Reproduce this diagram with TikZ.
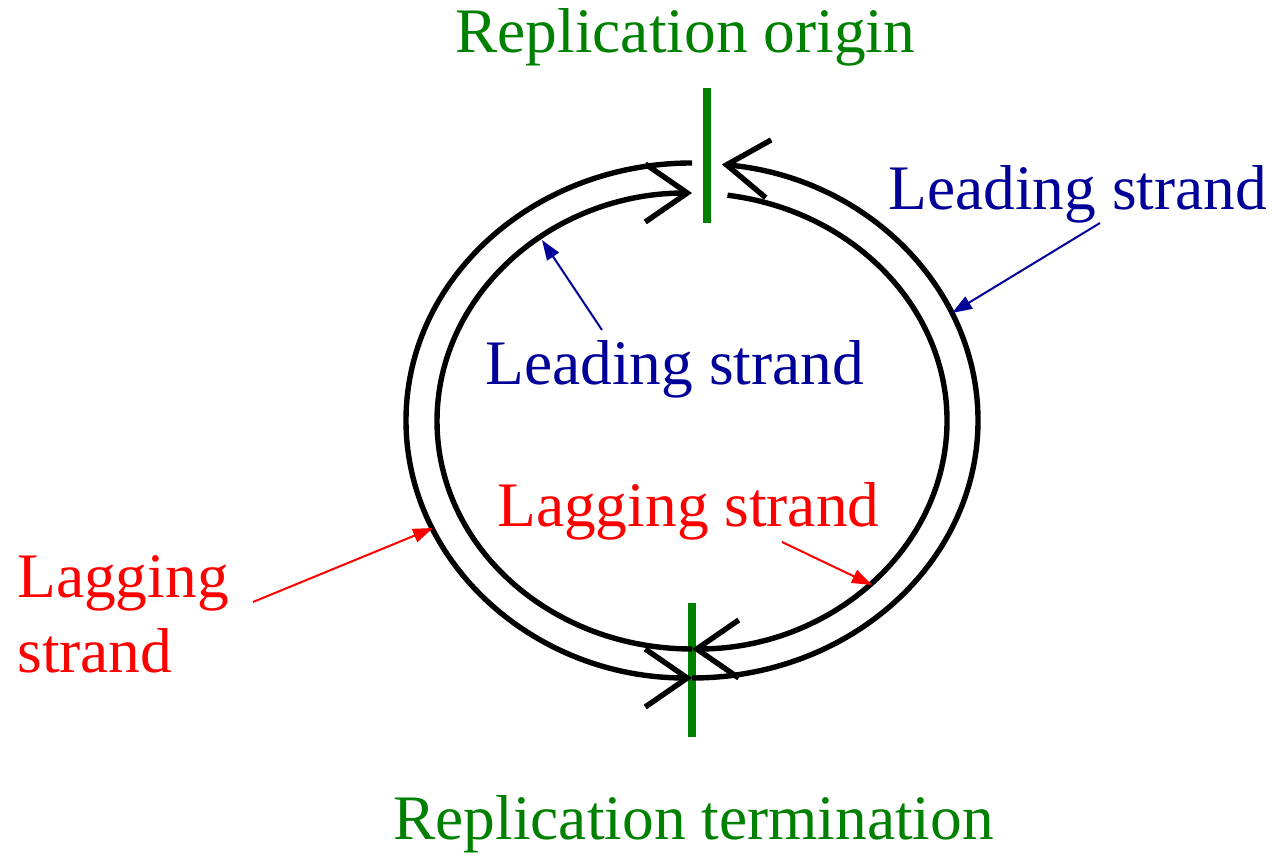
\documentclass[tikz,border=0pt]{standalone}
\usepackage{fontspec}
\setmainfont{Liberation Serif}
\usepackage{xcolor}
\usepackage{tikz}
\usetikzlibrary{arrows.meta}
\definecolor{origgreen}{RGB}{0,128,0}
\definecolor{leadblue}{RGB}{0,0,153}
\definecolor{lagred}{RGB}{255,0,0}

\begin{document}
\begin{tikzpicture}[
  x=0.5pt, y=0.5pt,
  strand/.style={line width=2.7pt, -{Straight Barb[length=21pt,width=29pt]}},
  marker/.style={line width=4pt, origgreen},
  txt/.style={anchor=base west, inner sep=0pt, font=\fontsize{31.7}{37.5}\selectfont},
  pointer/.style={line width=1pt, -{Triangle[length=10pt,width=7pt]}}
]
\useasboundingbox (0,0) rectangle (1278,855);

% origin and termination marks
\draw[marker] (707,767) -- (707,632);
\draw[marker] (692,252) -- (692,118);

% outer strands
\draw[strand] (692,692) arc[start angle=90, end angle=270, x radius=286, y radius=257.5];
\draw[strand] (692,177) arc[start angle=-90, end angle=84, x radius=286, y radius=257.5];
% inner strands
\draw[strand] (692,206) arc[start angle=270, end angle=90, x radius=255, y radius=228];
\draw[strand] ({692+255*cos(82)},{434+228*sin(82)}) arc[start angle=82, end angle=-90, x radius=255, y radius=228];

\node[txt, origgreen] (origin) at (455,802) {Replication origin};
\node[txt, origgreen] (termination) at (393,15) {Replication termination};
\node[txt, leadblue] (leadout) at (888,645) {Leading strand};
\node[txt, leadblue] (leadin) at (485,470) {Leading strand};
\node[txt, lagred] (lagin) at (497,328) {Lagging strand};
\node[txt, lagred, align=left] (lagout) at (17,182) {Lagging\\strand};

\coordinate (leadinfrom) at (602,525);
\coordinate (leadinto) at (542,615);
\coordinate (leadoutfrom) at (1100,632);
\coordinate (leadoutto) at (952,542);
\coordinate (laginfrom) at (782,313);
\coordinate (lagints) at (872,270);
\coordinate (lagoutfrom) at (253,253);
\coordinate (lagoutto) at (433,327);

\draw[pointer, leadblue] (leadinfrom) -- (leadinto);
\draw[pointer, leadblue] (leadoutfrom) -- (leadoutto);
\draw[pointer, lagred] (laginfrom) -- (lagints);
\draw[pointer, lagred] (lagoutfrom) -- (lagoutto);

\end{tikzpicture}
\end{document}
